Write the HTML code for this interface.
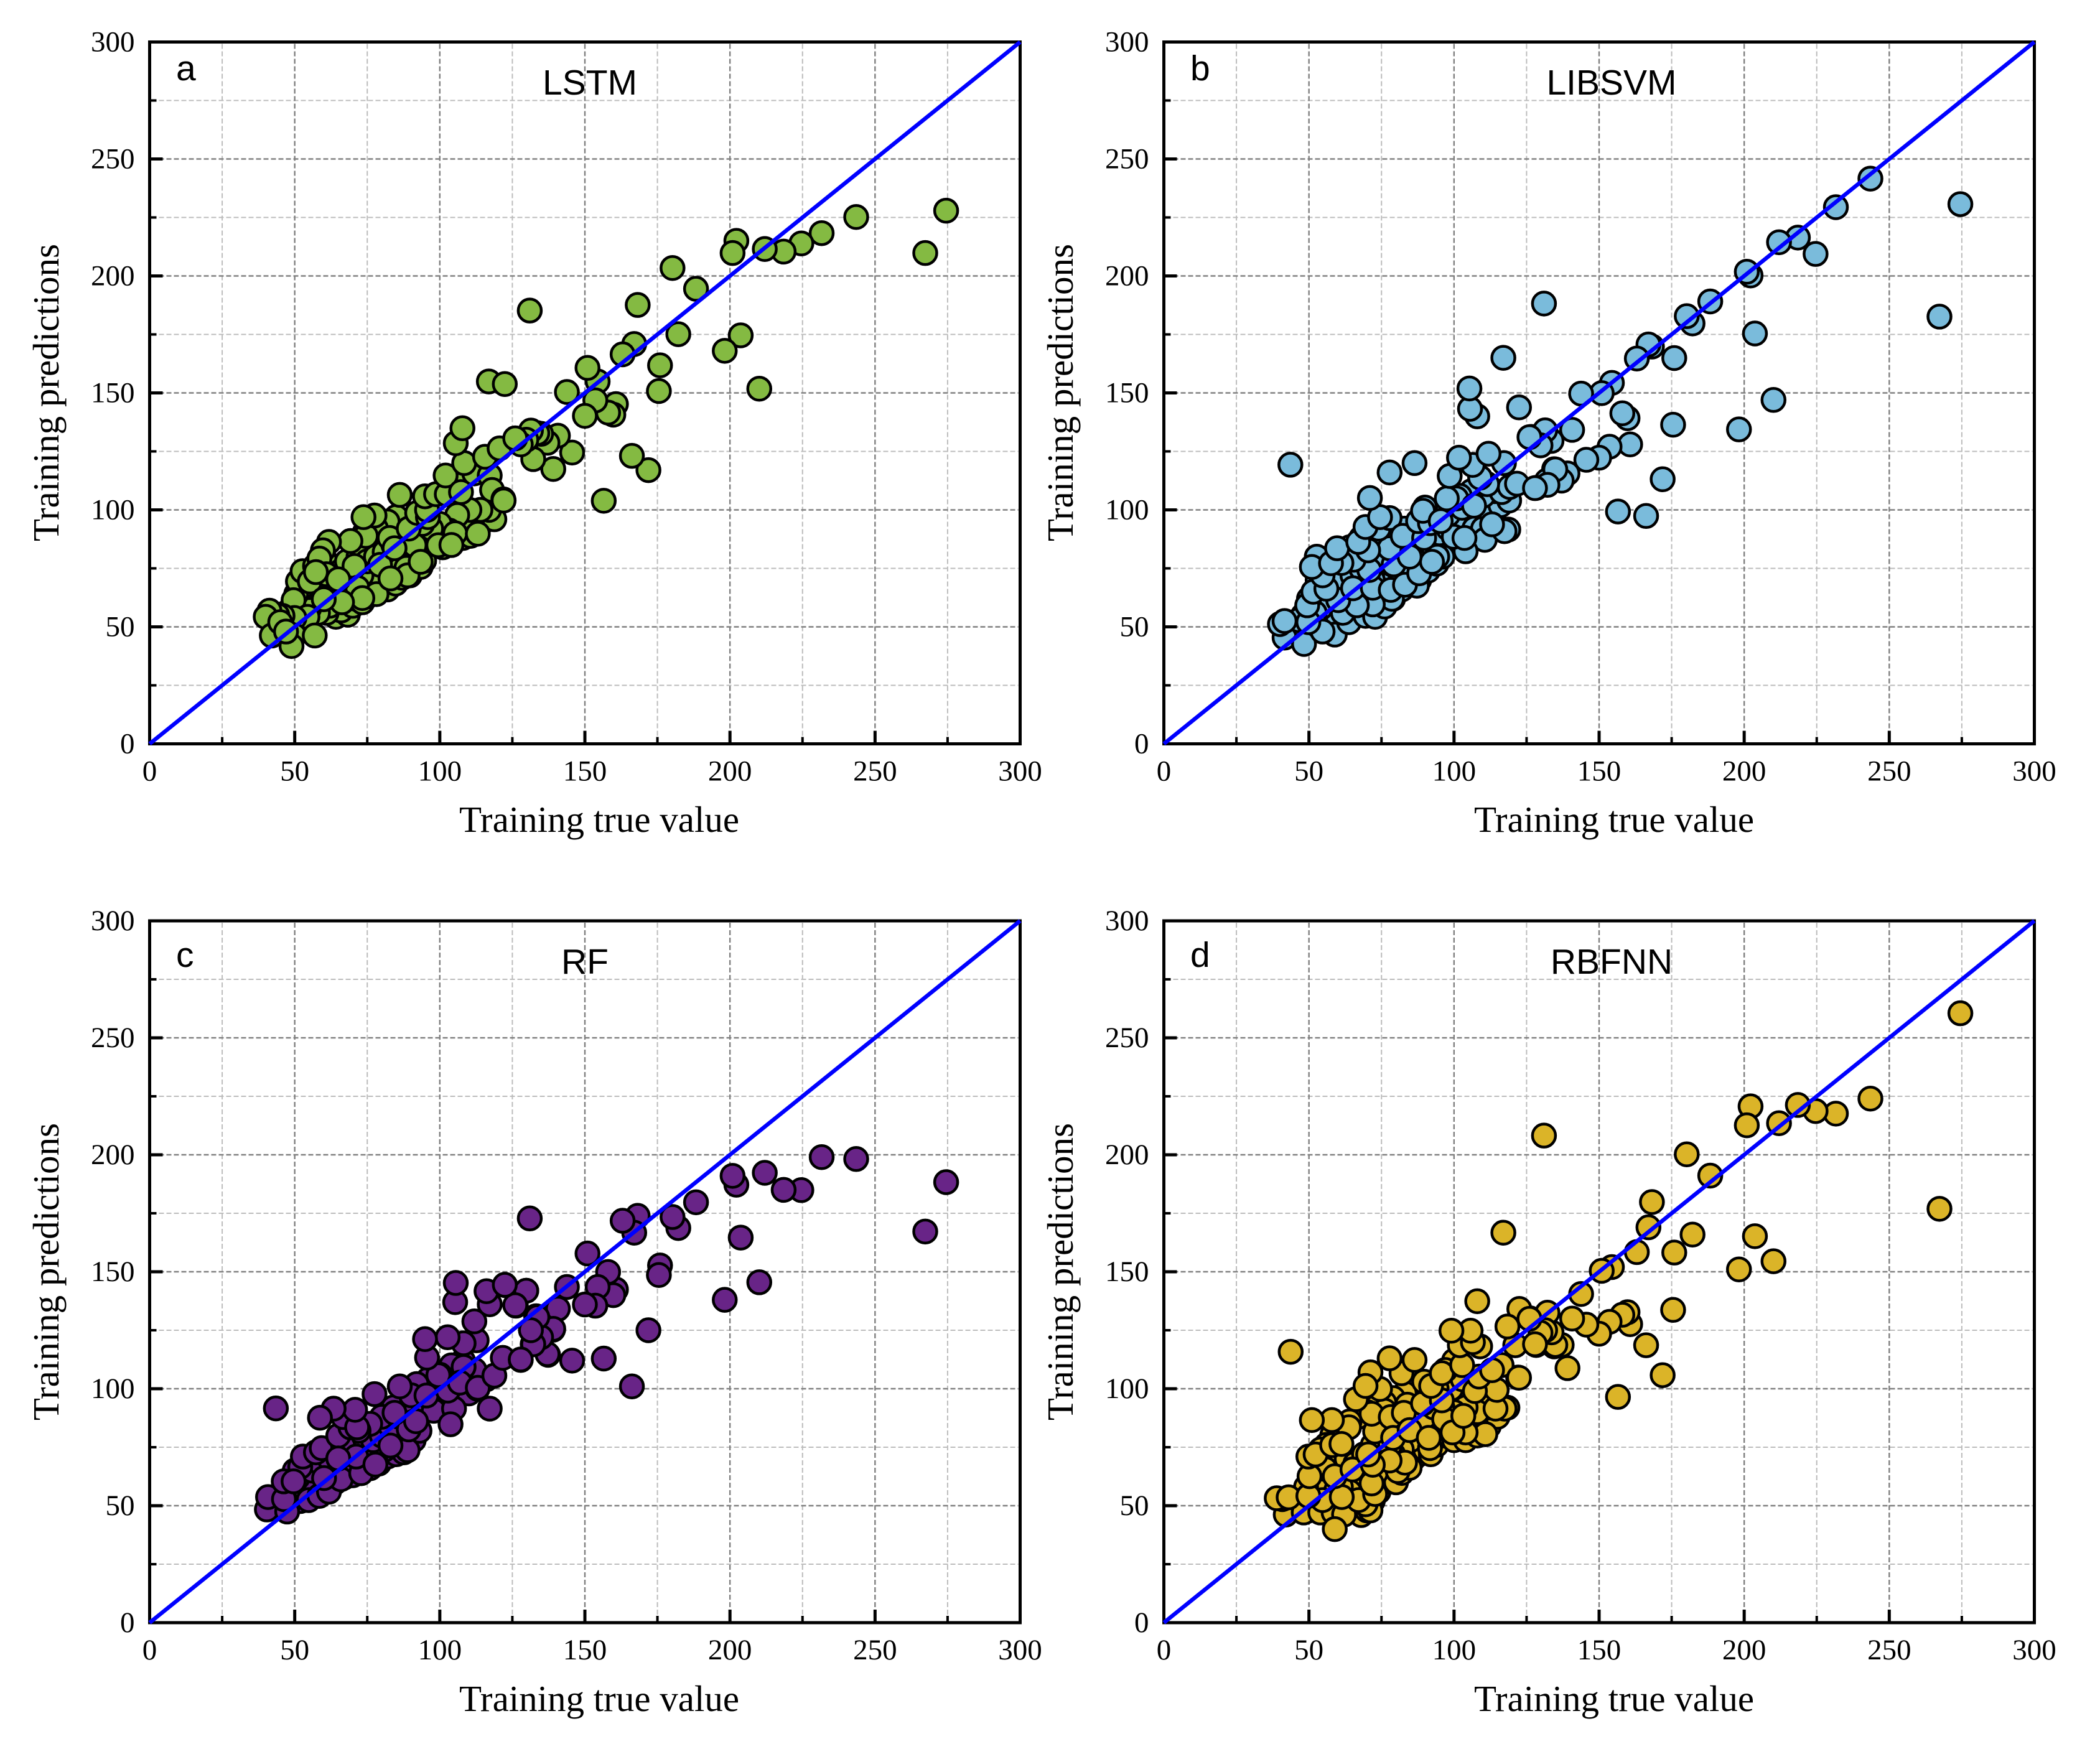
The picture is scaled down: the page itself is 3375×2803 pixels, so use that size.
<!DOCTYPE html>
<html lang="en">
<head>
<meta charset="utf-8">
<title>Training predictions vs true value</title>
<style>
html,body{margin:0;padding:0;background:#fff;}
svg{display:block;}
.tick{font-family:"Liberation Serif",serif;font-size:47px;fill:#000;}
.axt{font-family:"Liberation Serif",serif;font-size:59px;fill:#000;}
.ttl{font-family:"Liberation Sans",sans-serif;font-size:57px;fill:#000;}
</style>
</head>
<body>
<svg id="chart" xmlns="http://www.w3.org/2000/svg" width="3375" height="2803" viewBox="0 0 3375 2803">
<rect x="0" y="0" width="3375" height="2803" fill="#ffffff"/>
<g id="panel-a"></g>
<g id="panel-b"></g>
<g id="panel-c"></g>
<g id="panel-d"></g>

<text class="ttl" x="283" y="129">a</text>
<text class="ttl" x="948" y="152" text-anchor="middle">LSTM</text>
<text class="axt" x="963" y="1337" text-anchor="middle">Training true value</text>
<text class="axt" transform="translate(94,631) rotate(-90)" text-anchor="middle">Training predictions</text>

<text class="ttl" x="1913" y="129">b</text>
<text class="ttl" x="2590" y="152" text-anchor="middle">LIBSVM</text>
<text class="axt" x="2594" y="1337" text-anchor="middle">Training true value</text>
<text class="axt" transform="translate(1724,631) rotate(-90)" text-anchor="middle">Training predictions</text>

<text class="ttl" x="283" y="1554">c</text>
<text class="ttl" x="940" y="1565" text-anchor="middle">RF</text>
<text class="axt" x="963" y="2750" text-anchor="middle">Training true value</text>
<text class="axt" transform="translate(94,2044) rotate(-90)" text-anchor="middle">Training predictions</text>

<text class="ttl" x="1913" y="1554">d</text>
<text class="ttl" x="2590" y="1565" text-anchor="middle">RBFNN</text>
<text class="axt" x="2594" y="2750" text-anchor="middle">Training true value</text>
<text class="axt" transform="translate(1724,2044) rotate(-90)" text-anchor="middle">Training predictions</text>
</svg>

<script>
// ---------- axis values ----------
const majorTicks = [0, 50, 100, 150, 200, 250, 300];
const minorTicks = [25, 75, 125, 175, 225, 275];
const tickLabels = ["0", "50", "100", "150", "200", "250", "300"];

// ---------- true values shared by the sparse, high-value samples ----------
const highTrue = [274.5,267.3,243.5,231.6,224.6,218.5,212,210.1,203.7,202.2,200.9,198.2,188.3,182.2,180.2,175.9,175.5,171.9,168.2,167,166.2,163,160.7,159.8,158,156.5,154.4,153.6,150.9,150,145.6,143.8,140.7,139.1,137.1,134.9,133.6,132.2,131.4,131,129.8,127.9,126,122.4];

const lstmHighPred = [227.9,209.8,225.2,218.3,213.9,210.4,211.5,151.8,174.6,215,209.8,168,194.5,175.1,203.4,161.8,150.8,117,187.6,170.9,123.1,166.5,145.2,140.7,141.6,103.9,154.9,146.8,160.7,140.2,124.5,150.4,131.7,117.5,128.7,132.5,132.8,121.7,133.9,185.2,130,128,130.6,153.8];
const libsvmHighPred = [230.7,182.6,241.6,229.4,209.4,216.4,214.4,147,175.4,200.2,201.8,134.4,189.1,179.7,182.8,164.9,136.4,113.1,169.8,170.7,97.4,164.7,128,139.2,141.3,99.3,154.3,127,149.9,122.3,121.4,149.7,134.2,115.6,112.5,117.3,129.5,110.7,134,188.2,127.6,109.3,131.1,143.8];
const rfHighPred = [188.3,167.2,198.2,199,184.9,185,192.3,145.5,164.6,187.2,191,138,179.7,168.7,173.4,152.7,148.6,125,173.9,166.7,101,171.8,142.4,140,149.9,112.9,143.5,135.5,157.8,136,112,143.5,134.2,125.6,114.8,122,130.6,119,125,172.8,141.9,112.5,135.7,144.4];
const rbfnnHighPred = [260.5,176.9,224,217.6,218.7,221.3,213.5,154.5,165.2,220.7,212.6,151,191.1,165.9,200.2,158.2,133.7,105.8,179.8,169,118.6,158.4,127.6,132.7,131.6,96.5,152,128.6,150.4,123.5,127.4,140.5,130,108.8,118.7,118.7,124.1,132.5,125,208.2,123.9,119,129.9,104.7];

// ---------- dense low-value cluster, read per panel ----------
const lstmClusterTrue = [
64.2,68.3,66,61,62,70,58,55,52,50,
47,48,46,53,56,59,62,65,68,71,
73.3,75,77,80,82,84.8,87,89.7,91,93.4,
94.6,92,89,86,83,80,76,73,70,67,
64,61,58,55,52,50.5,51.1,52.7,55.2,57,
59,60,62,64,66,68,72,75,78,81,
84,87,90,93,96,99,101,104,105.3,108,
110.6,112,115,118.8,117,114,110.2,106,103.2,100,
97,94,91,88,85,82,78,74,74.5,69.2,
61.8,59.7,58.5,70.6,79.4,88.5,88.9,91.3,93.4,82.7,
84.4,89.3,92.2,95.9,95.6,94.9,98.7,102.4,106,102,
105.3,111.9,117.2,118,121.9,113.1,107.3,108.4,115.6,120.6,
105.5,107.8,99.5,104,71.6,78.2,73.3,66.3,60,60.9,
57.3,65,83,77.5,73.7,86.2,49.6,54.4,49.9,45.8,
44,41.3,40,42.1,49.9,48.9,56.9,45,47,122,116.9];
const lstmClusterPred = [
54.3,55.2,57,56,59,59,56,58,60,58,
56,50,52,64,63,65,63,62,63,62,
60.5,63,66,68,66,68.5,71,72,75,75.6,
78.3,80,82,78,75,72,70,72,68,67,
68,69,68,67,66,64,69.4,73.8,69.4,76,
78,80,76,72,74,78,80,78,80,82,
85,87,85,88,86,88,84,85,88,88,
88.9,92,95,96,100,100,100,97.8,91.2,94,
92,94,96,94,97,95,92,90,88.9,86.7,
86.3,82.7,79.2,76,76.5,75.2,72,84.9,77.8,88,
83.6,92,98.7,96.9,100,105.8,106.7,106.7,113.4,114.7,
90,115.6,114.7,108.5,104.5,89.8,107.6,120,122.7,126.3,
128.5,134.9,84.9,85,66.7,64,62.3,60.5,61.8,72.5,
73.4,70.3,70.7,97.6,96.9,106.4,61.4,54.3,53.8,54.7,
55,56.9,54.3,46.3,46.3,41.8,46.3,52,48,104,154.9];

const libsvmClusterTrue = [
48,52,56,60,64,67,70,74,76,79,
82,85,88,91,94,96,93,90,87,84,
81,78,75,72,69,66,63,60,57,54,
52,50,48,53,56,59,62,65,68,71,
74,77,80,83,86,89,92,95,98,101,
104,107,110,113,116,119,114,110,106,102,
98,94,90,64,61,58,55,68,70,72,
41.6,40,46.5,41.6,48.3,58.9,54.7,49.8,49.4,63.8,
69.5,72.8,61.7,76.1,78.6,72,66.5,60.1,51.5,56,
65.2,72,78.2,87.2,83.1,88,73.2,70.8,65.4,61.2,
54.7,52.7,51,57.6,94.2,92.4,79.2,84.7,77.8,70.4,
59.7,67,74,69.5,77.8,74.5,82.3,89.7,110.6,104,
99.9,103.6,118.7,117.4,113.1,87.6,91.7,89.3,95.4,102.8,
100.8,97.5,106.9,134.5,132,128.3,116.4,119.2,121.7,129.9,
131.5,126.6,111.4,109,98.5,117.2,106.4,111.9,101.7,108,
105.5,105.3,86.4,77.8,71,43.6,117];
const libsvmClusterPred = [
48,50,52,54,55,57,58,58,60,62,
66,69,70,74,77,80,84,82,78,74,
72,70,68,70,68,64,62,66,62,58,
56,62,55,70,72,74,71,72,75,78,
82,88,84,92,86,92,88,90,92,94,
94,92,92,98,102,104,108,106,108,106,
98,98,101,84,82,80,79,88,85,90,
45.4,51.2,52.9,52.5,42.7,46.7,48,52,59.2,52,
54.7,54.3,56,58.7,62,59.6,59.2,61.4,65,66.3,
66.5,66.7,65.8,67.6,68,72.9,78.3,74.3,78.7,77.3,
72,80,75.6,77.2,80,77.8,76.7,80,83.6,82.7,
83.6,86.3,92,92.7,96.5,96.9,88.9,88,87.2,82.3,
88.5,88,91.6,90.9,93.8,95.2,94.3,99.6,95.2,100.9,
104.9,104.9,101.8,117.4,112.5,109.4,107.6,109.8,111.2,127.6,
133.8,131.2,111,113.8,114.5,120,119.2,124,122.3,140,
143.2,151.9,120,116,105.1,119.3,165];

const rfClusterTrue = [
48,52,55,58,61,64,67,70,73,76,
79,82,85,88,91,93,90,87,84,81,
78,75,72,69,66,63,60,57,54,51,
50,53,56,59,62,65,68,71,74,77,
80,83,86,89,92,95,98,101,104,107,
110,113,116,112,108,104,100,96,92,88,
84,80,76,72,
40.4,40.8,47.4,46.3,54.8,58.5,61.8,46.2,51.9,52.8,
57.3,59.3,65.9,72.9,66.7,65,69.2,66.7,71.5,71.2,
60.1,49.6,65,77.8,87.6,88.9,83,89.3,97.9,84.4,
91.8,104.9,103.7,90.1,95.4,102.8,99.5,108.2,106.9,113.1,
117.2,118.8,121.7,127.9,137.3,132,139,131.6,140.6,133.2,
129.8,126.2,117.2,122.5,116.1,105.3,105.5,112.7,111.9,108.2,
95.6,102.7,94.9,86.2,77.5,70.8,63.4,58.7,43.5];
const rfClusterPred = [
50,52,54,56,58,60,62,63,65,66,
68,71,72,75,78,82,86,82,78,74,
72,70,69,67,65,63,60,58,56,62,
65,66,65,68,70,72,74,78,76,78,
80,84,88,90,92,92,94,95,96,98,
98,100,104,108,112,110,106,104,102,95,
92,88,85,82,
48.4,53.7,47.5,52.8,52.4,54.2,56,60.4,66.6,71,
72.8,74.6,61.3,63.9,75.5,79.9,83.5,87.9,83.5,71,
61.8,60.4,70.2,67.6,72.8,73.7,75.7,82.6,90.6,89.7,
86.1,91.5,84.8,97.2,97.1,99.2,105.8,109.3,102.6,100.4,
91.5,105.6,113.2,112.3,114.5,119,125.2,125.2,134,131,
141.9,135.5,136.1,144.3,141.7,137,145.2,120.7,128.8,119.4,
113.3,122,121.2,101,97.7,91,91.5,87.6,91.6];

const rbfnnClusterTrue = [
46,50,53,56,60,64,66,68,70,72,
74,76,78,80,82,84,86,88,90,92,
94,96,100,104,108,112,115,112,108,104,
100,96,92,88,85,82,79,76,73,70,
67,64,61,58,55,52,49,54,57,60,
63,66,69,72,75,78,81,84,87,90,
93,96,99,103,100,97,94,90,87,83,
79,76,73,70,67,64,61,58,56,54,
42,48.2,53.9,58.5,62.1,58.9,71.2,69.5,67.1,72.8,
71.6,54.7,61.3,40.8,38.9,43,49.8,55.6,50.2,58.9,
65,84.7,80.6,83.1,77.8,72,70.4,49.8,52.3,63.8,
58,61.2,76.1,72.8,71.6,78.2,83.9,82.7,79,84.7,
91.7,91.3,96.6,110.8,104,99.5,118.4,117.4,114.3,103.2,
114.7,89.3,95.8,107.2,134.5,130.3,128.3,121.1,126.2,122.5,
118.4,122.1,116.4,108.6,113.1,89.7,92.1,95.8,102.8,102,
109,106.5,105.7,99.1,108,74.5,81.9,86.4,77.8,71.2,
66.2,69.5,57.9,51,43.7,117];
const rbfnnClusterPred = [
50,48,50,48,50,48,50,46,48,52,
56,60,62,60,64,68,70,72,74,72,
76,80,78,78,80,84,88,92,90,92,
90,92,88,84,78,74,72,68,64,62,
58,56,58,56,58,60,58,66,70,72,
70,68,72,76,78,76,82,86,90,88,
92,98,100,104,112,108,100,98,96,98,
96,94,92,90,88,86,80,80,76,74,
46.2,47.1,47.1,47.1,46.2,40,48,50.6,52.4,55,
59.5,52.4,53.7,52.8,53.2,53.6,54.2,65.7,62.6,62.6,
65.5,66.2,64.8,68.4,69.3,67.5,71.9,71,71.9,83.5,
75.9,76.4,90.6,81.7,89.3,87.9,93.2,89.7,79,82.3,
74.6,79,87,80.6,81.3,81.3,91.9,91.5,91.5,88.4,
99.5,93.7,95,99,118.1,123.4,118.7,118.6,130.1,134.1,
126.6,104.8,110.1,105.2,107.9,103,101.2,106.6,110.1,118.6,
118.1,119.9,124.8,124.8,137.4,99.9,106.6,112.3,113,107,
95.5,101.2,86.6,86.6,115.8,166.7];

// ---------- layout of the four panels ----------
const panelLayouts = [
  {id:"panel-a", key:"a", left:240.5,  top:67.5, fill:"#84BA42", hiPred:lstmHighPred,   cTrue:lstmClusterTrue,   cPred:lstmClusterPred},
  {id:"panel-b", key:"b", left:1870.5, top:67.5, fill:"#7ABBDB", hiPred:libsvmHighPred, cTrue:libsvmClusterTrue, cPred:libsvmClusterPred},
  {id:"panel-c", key:"c", left:240.5,  top:1480, fill:"#682487", hiPred:rfHighPred,     cTrue:rfClusterTrue,     cPred:rfClusterPred},
  {id:"panel-d", key:"d", left:1870.5, top:1480, fill:"#DBB428", hiPred:rbfnnHighPred,  cTrue:rbfnnClusterTrue,  cPred:rbfnnClusterPred}
];
const plotW = 1399, plotH = 1128, axisMax = 300;
const NS = "http://www.w3.org/2000/svg";

function xAxis(p, v) { return p.left + v / axisMax * plotW; }
function yAxis(p, v) { return p.top + plotH - v / axisMax * plotH; }
function make(parent, tag, attrs) {
  const el = document.createElementNS(NS, tag);
  for (const k in attrs) el.setAttribute(k, attrs[k]);
  parent.appendChild(el);
  return el;
}
const GRID_STYLES = {
  major: {stroke:"#808080", "stroke-width":2.4, "stroke-dasharray":"8 4"},
  minor: {stroke:"#BCBCBC", "stroke-width":2, "stroke-dasharray":"8 4"}
};

function drawGrid(g, p, values, kind) {
  values.forEach(function (v) {
    if (v === 0 || v === axisMax) return;
    const s = GRID_STYLES[kind];
    const vl = make(g, "line", {x1:xAxis(p,v), x2:xAxis(p,v), y1:p.top + 3, y2:p.top + plotH - 3, stroke:s.stroke, "stroke-width":s["stroke-width"], "stroke-dasharray":s["stroke-dasharray"]});
    
    
    const hl = make(g, "line", {x1:p.left + 3, x2:p.left + plotW - 3, y1:yAxis(p,v), y2:yAxis(p,v), stroke:s.stroke, "stroke-width":s["stroke-width"], "stroke-dasharray":s["stroke-dasharray"]});
    
    
  });
}

function drawPoints(g, p, xs, ys) {
  xs.forEach(function (xv, i) {
    const c = make(g, "circle", {cx:xAxis(p,xv), cy:yAxis(p,ys[i]), r:18.5, fill:p.fill, stroke:"#000", "stroke-width":4.5});
    
    
  });
}

function drawTicks(g, p) {
  const bottom = p.top + plotH;
  majorTicks.forEach(function (v, i) {
    if (v !== 0 && v !== axisMax) {
      const tx = make(g, "line", {x1:xAxis(p,v), x2:xAxis(p,v), y1:bottom, y2:bottom - 21, stroke:"#000", "stroke-width":5});
      
      
      const ty = make(g, "line", {x1:p.left, x2:p.left + 21, y1:yAxis(p,v), y2:yAxis(p,v), stroke:"#000", "stroke-width":5});
      
      
    }
    const lx = make(g, "text", {class:"tick", x:xAxis(p,v), y:bottom + 59, "text-anchor":"middle"});
    lx.textContent = tickLabels[i];
    
    
    const ly = make(g, "text", {class:"tick", x:p.left - 24, y:yAxis(p,v) + 15, "text-anchor":"end"});
    ly.textContent = tickLabels[i];
    
    
  });
  minorTicks.forEach(function (v) {
    const tx = make(g, "line", {x1:xAxis(p,v), x2:xAxis(p,v), y1:bottom, y2:bottom - 11, stroke:"#000", "stroke-width":4});
    
    
    const ty = make(g, "line", {x1:p.left, x2:p.left + 11, y1:yAxis(p,v), y2:yAxis(p,v), stroke:"#000", "stroke-width":4});
    
    
  });
}

panelLayouts.forEach(function (p) {
  const g = document.getElementById(p.id);
  drawGrid(g, p, minorTicks, "minor");
  drawGrid(g, p, majorTicks, "major");
  drawPoints(g, p, p.cTrue, p.cPred);
  drawPoints(g, p, highTrue, p.hiPred);

  const diag = make(g, "line", {x1:xAxis(p,0), y1:yAxis(p,0), x2:xAxis(p,axisMax), y2:yAxis(p,axisMax), stroke:"#0000FF", "stroke-width":6.5});
  
  

  const frame = make(g, "rect", {x:p.left, y:p.top, width:plotW, height:plotH, fill:"none", stroke:"#000", "stroke-width":5});
  
  
  g.insertBefore(frame, diag);

  drawTicks(g, p);
});
</script>
</body>
</html>
